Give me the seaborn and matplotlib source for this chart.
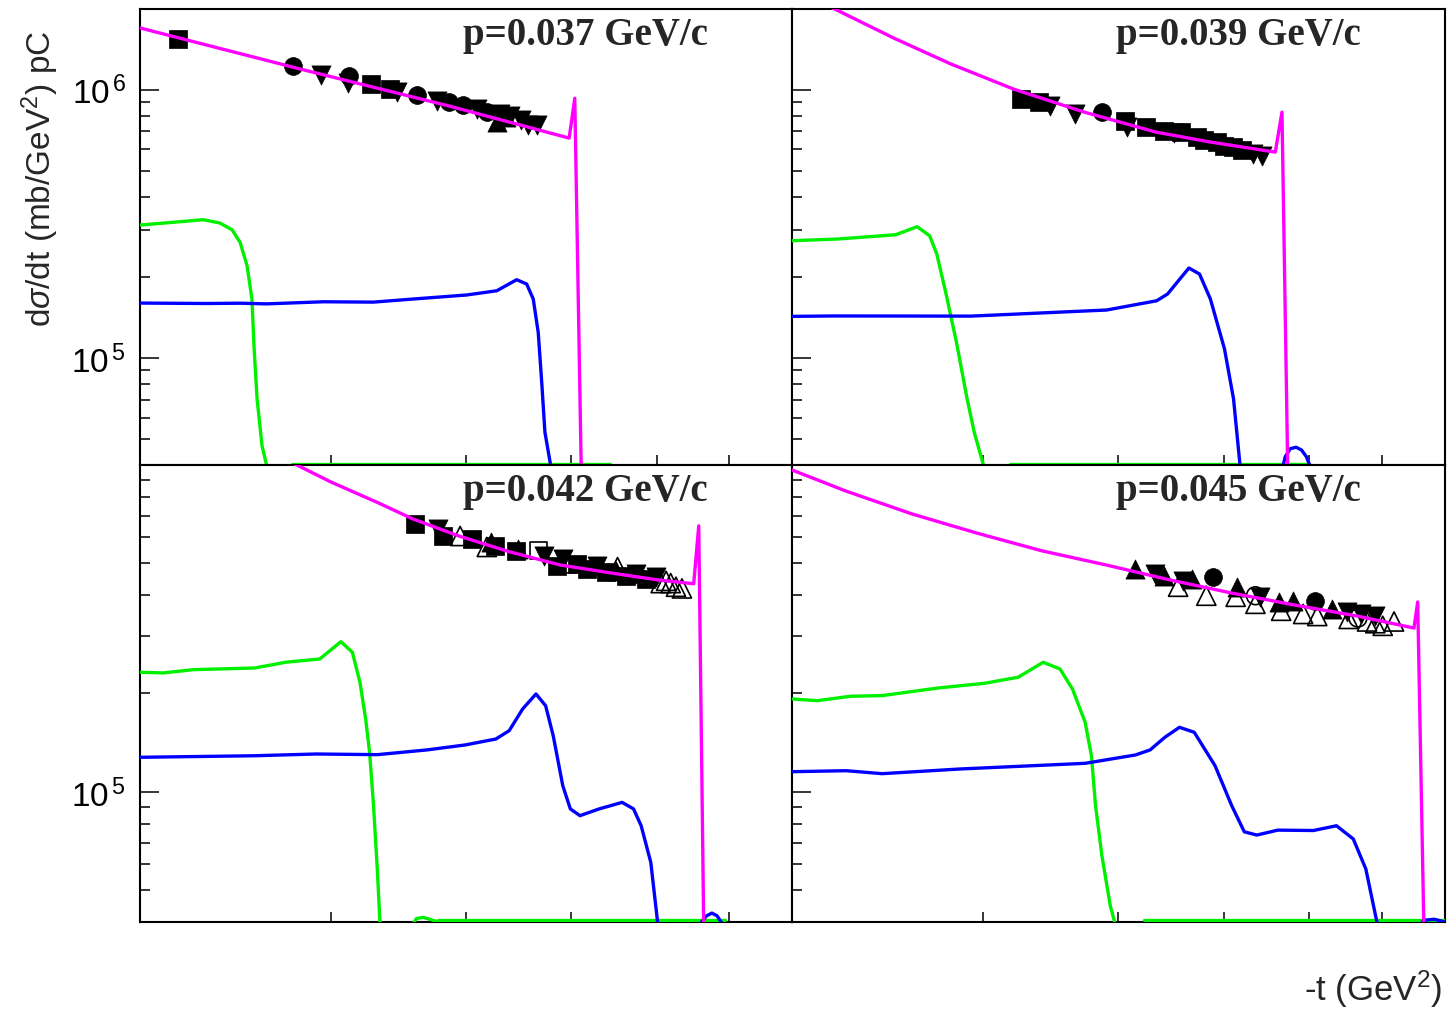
import numpy as np
import pandas as pd
import matplotlib
matplotlib.use('Agg')
import matplotlib.pyplot as plt
import seaborn as sns
from matplotlib.ticker import LogLocator, FixedLocator, NullLocator, NullFormatter, FuncFormatter

# -t in 1e-3 GeV^2, dsigma/dt in 1e5 mb/GeV^2
T_UNIT = 1e-3
V_UNIT = 1e5
FLOOR = 0.405   # curves that ROOT clipped onto the frame bottom

titles = ['p=0.037 GeV/c', 'p=0.039 GeV/c', 'p=0.042 GeV/c', 'p=0.045 GeV/c']

# ---------------- p = 0.037 GeV/c
mag_t_037 = [2.00, 2.81, 3.86, 4.98, 5.04, 5.11]
mag_v_037 = [17.0, 11.96, 8.70, 6.61, 9.3, 0.38]
grn_t_037 = [2.00, 2.145, 2.287, 2.370, 2.432, 2.474, 2.511, 2.537, 2.549, 2.565, 2.592, 2.625]
grn_v_037 = [3.135, 3.209, 3.281, 3.19, 3.011, 2.703, 2.211, 1.662, 1.082, 0.705, 0.472, 0.38]
grn_floor_037 = [2.76, 5.43]
blu_t_037 = [2.00, 2.304, 2.474, 2.618, 2.952, 3.284, 3.576, 4.004, 4.27, 4.454, 4.55, 4.614,
             4.663, 4.698, 4.73, 4.798]
blu_v_037 = [1.605, 1.599, 1.603, 1.594, 1.623, 1.618, 1.662, 1.72, 1.784, 1.961, 1.89, 1.662,
             1.249, 0.813, 0.53, 0.38]
sq_t_037 = [2.17, 3.27, 3.40]
sq_v_037 = [15.5, 10.5, 10.1]
ci_t_037 = [2.77, 3.12, 3.60, 3.86, 3.97, 4.18]
ci_v_037 = [12.3, 11.3, 9.6, 9.0, 8.8, 8.3]
dn_t_037 = [2.94, 3.11, 3.45, 3.76, 4.09, 4.30, 4.39, 4.50, 4.56, 4.65]
dn_v_037 = [11.4, 10.6, 9.8, 9.1, 8.5, 8.1, 8.0, 7.7, 7.4, 7.4]
up_t_037 = [4.27, 4.35]
up_v_037 = [7.6, 7.9]

# ---------------- p = 0.039 GeV/c
mag_t_039 = [2.00, 2.19, 2.49, 2.80, 3.20, 3.72, 4.33, 4.86, 5.58, 5.66, 5.73]
mag_v_039 = [23.5, 20.0, 15.5, 12.5, 10.07, 8.26, 6.96, 6.39, 5.86, 8.26, 0.38]
grn_t_039 = [2.00, 2.207, 2.493, 2.609, 2.679, 2.72, 2.772, 2.836, 2.901, 2.945, 3.014]
grn_v_039 = [2.74, 2.781, 2.885, 3.09, 2.86, 2.445, 1.76, 1.146, 0.705, 0.53, 0.38]
grn_floor_039 = [3.18, 6.00]
blu_t_039 = [2.00, 2.191, 2.924, 3.90, 4.338, 4.439, 4.645, 4.751, 4.862, 5.01, 5.107, 5.184]
blu_v_039 = [1.432, 1.437, 1.435, 1.512, 1.637, 1.734, 2.168, 2.059, 1.662, 1.082, 0.705, 0.38]
bump_t_039 = [5.657, 5.70, 5.76, 5.832, 5.90, 5.96, 6.033]
bump_v_039 = [0.38, 0.43, 0.46, 0.466, 0.455, 0.43, 0.38]
sq_t_039 = [3.25, 3.38, 4.06, 4.24, 4.41, 4.57, 4.73, 4.80, 4.93, 5.00, 5.10, 5.20]
sq_v_039 = [9.24, 9.0, 7.65, 7.27, 7.02, 6.96, 6.67, 6.5, 6.39, 6.2, 6.12, 5.95]
ci_t_039 = [3.86]
ci_v_039 = [8.3]
dn_t_039 = [3.46, 3.65, 4.07, 4.50, 5.32, 5.43]
dn_v_039 = [8.70, 8.12, 7.27, 6.9, 5.77, 5.66]

# ---------------- p = 0.042 GeV/c
mag_t_042 = [2.60, 2.79, 3.00, 3.32, 3.57, 3.94, 4.39, 4.89, 5.45, 6.01, 6.49, 6.56, 6.63]
mag_v_042 = [11.2, 10.0, 8.87, 7.65, 6.84, 6.06, 5.42, 4.94, 4.67, 4.45, 4.33, 6.51, 0.38]
grn_t_042 = [2.00, 2.10, 2.241, 2.553, 2.724, 2.931, 3.065, 3.141, 3.192, 3.231, 3.258, 3.284,
             3.312, 3.333]
grn_v_042 = [2.322, 2.311, 2.365, 2.393, 2.491, 2.55, 2.88, 2.673, 2.164, 1.671, 1.322, 0.929,
             0.581, 0.38]
gbump_t_042 = [3.563, 3.60, 3.651, 3.71, 3.771]
gbump_v_042 = [0.39, 0.41, 0.4134, 0.407, 0.40]
grn_floor_042 = [3.771, 6.94]
blu_t_042 = [2.00, 2.553, 2.908, 3.312, 3.681, 3.993, 4.261, 4.384, 4.511, 4.641, 4.737, 4.814,
             4.913, 4.993, 5.096, 5.307, 5.574, 5.711, 5.804, 5.924, 6.021]
blu_v_042 = [1.276, 1.29, 1.306, 1.30, 1.344, 1.392, 1.451, 1.539, 1.793, 1.993, 1.835, 1.486,
             1.045, 0.887, 0.846, 0.887, 0.929, 0.887, 0.788, 0.609, 0.38]
bump_t_042 = [6.53, 6.60, 6.67, 6.746, 6.82, 6.88, 6.94]
bump_v_042 = [0.38, 0.40, 0.418, 0.426, 0.418, 0.40, 0.38]
sq_t_042 = [3.59, 3.81, 4.05, 4.25, 4.45, 4.85, 5.06, 5.17, 5.39, 5.62, 5.86]
sq_v_042 = [6.60, 6.06, 5.94, 5.65, 5.46, 4.91, 4.97, 4.80, 4.70, 4.57, 4.48]
dn_t_042 = [3.77, 4.72, 4.92, 5.28, 5.74, 5.99]
dn_v_042 = [6.37, 5.27, 5.16, 4.91, 4.63, 4.54]
up_t_042 = [4.22, 4.47, 5.50]
up_v_042 = [5.80, 5.55, 4.75]
ot_t_042 = [3.95, 4.18, 4.95, 5.52, 6.05, 6.12, 6.18, 6.25, 6.33]
ot_v_042 = [6.06, 5.61, 5.0, 4.87, 4.35, 4.42, 4.35, 4.24, 4.19]
os_t_042 = [4.67]
os_v_042 = [5.46]

# ---------------- p = 0.045 GeV/c
mag_t_045 = [2.00, 2.24, 2.58, 2.96, 3.40, 3.90, 4.46, 5.08, 5.81, 6.64, 7.49, 7.55, 7.65]
mag_v_045 = [9.65, 8.33, 7.08, 6.19, 5.46, 4.94, 4.45, 4.06, 3.73, 3.45, 3.17, 3.81, 0.38]
grn_t_045 = [2.00, 2.11, 2.265, 2.422, 2.73, 3.011, 3.233, 3.409, 3.533, 3.628, 3.727, 3.777,
             3.81, 3.862, 3.931, 3.984]
grn_v_045 = [1.924, 1.901, 1.961, 1.97, 2.079, 2.149, 2.242, 2.491, 2.377, 2.064, 1.633, 1.29,
             0.908, 0.638, 0.449, 0.38]
grn_floor_045 = [4.22, 8.00]
blu_t_045 = [2.00, 2.245, 2.422, 2.855, 3.727, 4.147, 4.278, 4.414, 4.553, 4.698, 4.91, 5.087,
             5.225, 5.366, 5.609, 6.051, 6.354, 6.585, 6.763, 6.946]
blu_v_045 = [1.153, 1.161, 1.137, 1.175, 1.223, 1.297, 1.344, 1.469, 1.576, 1.522, 1.203, 0.908,
             0.755, 0.738, 0.764, 0.762, 0.788, 0.718, 0.581, 0.38]
bump_t_045 = [7.52, 7.65, 7.82, 8.00]
bump_v_045 = [0.38, 0.405, 0.408, 0.40]
ci_t_045 = [4.89, 6.07]
ci_v_045 = [4.54, 3.84]
dn_t_045 = [4.32, 4.59, 5.40, 6.50, 6.70, 6.90]
dn_v_045 = [4.65, 4.42, 3.95, 3.55, 3.50, 3.45]
up_t_045 = [4.14, 4.41, 4.68, 5.15, 5.63, 5.80, 6.30]
up_v_045 = [4.81, 4.57, 4.48, 4.24, 3.81, 3.84, 3.62]
ot_t_045 = [4.54, 4.82, 5.13, 5.35, 5.65, 5.92, 6.10, 6.52, 6.78, 6.90, 7.01, 7.18]
ot_v_045 = [4.24, 3.98, 3.95, 3.76, 3.58, 3.50, 3.45, 3.38, 3.32, 3.28, 3.22, 3.32]
oc_t_045 = [5.35, 6.65]
oc_v_045 = [3.98, 3.40]

MAGENTA = '#ff00ff'
GREEN = '#00f000'
BLUE = '#0000ff'

sns.set_theme(style='white')
plt.rcParams['font.family'] = ['Liberation Sans', 'DejaVu Sans']
plt.rcParams['mathtext.fontset'] = 'custom'
plt.rcParams['mathtext.rm'] = 'Liberation Sans'
plt.rcParams['mathtext.it'] = 'Liberation Sans:italic'
plt.rcParams['mathtext.bf'] = 'Liberation Sans:bold'

fig = plt.figure(figsize=(14.47, 10.12), dpi=100)
positions = [[0.0968, 0.5395, 0.4506, 0.4506],
             [0.5473, 0.5395, 0.4513, 0.4506],
             [0.0968, 0.0879, 0.4506, 0.4516],
             [0.5473, 0.0879, 0.4513, 0.4516]]

SQ, CI, TRI = 150, 165, 190

# each panel: magenta total, other curves (t, v, color), markers (t, v, marker, filled, size)
panels = [
    dict(mag=(mag_t_037, mag_v_037),
         curves=[(grn_t_037, grn_v_037, GREEN), (grn_floor_037, [FLOOR] * 2, GREEN),
                 (blu_t_037, blu_v_037, BLUE)],
         marks=[(sq_t_037, sq_v_037, 's', True, SQ), (ci_t_037, ci_v_037, 'o', True, CI),
                (dn_t_037, dn_v_037, 'v', True, TRI), (up_t_037, up_v_037, '^', True, TRI)]),
    dict(mag=(mag_t_039, mag_v_039),
         curves=[(grn_t_039, grn_v_039, GREEN), (grn_floor_039, [FLOOR] * 2, GREEN),
                 (blu_t_039, blu_v_039, BLUE), (bump_t_039, bump_v_039, BLUE)],
         marks=[(sq_t_039, sq_v_039, 's', True, SQ), (ci_t_039, ci_v_039, 'o', True, CI),
                (dn_t_039, dn_v_039, 'v', True, TRI)]),
    dict(mag=(mag_t_042, mag_v_042),
         curves=[(grn_t_042, grn_v_042, GREEN), (gbump_t_042, gbump_v_042, GREEN),
                 (grn_floor_042, [FLOOR] * 2, GREEN), (blu_t_042, blu_v_042, BLUE),
                 (bump_t_042, bump_v_042, BLUE)],
         marks=[(sq_t_042, sq_v_042, 's', True, SQ), (dn_t_042, dn_v_042, 'v', True, TRI),
                (up_t_042, up_v_042, '^', True, TRI), (ot_t_042, ot_v_042, '^', False, TRI),
                (os_t_042, os_v_042, 's', False, SQ)]),
    dict(mag=(mag_t_045, mag_v_045),
         curves=[(grn_t_045, grn_v_045, GREEN), (grn_floor_045, [FLOOR] * 2, GREEN),
                 (blu_t_045, blu_v_045, BLUE), (bump_t_045, bump_v_045, BLUE)],
         marks=[(ci_t_045, ci_v_045, 'o', True, CI), (dn_t_045, dn_v_045, 'v', True, TRI),
                (up_t_045, up_v_045, '^', True, TRI), (ot_t_045, ot_v_045, '^', False, TRI),
                (oc_t_045, oc_v_045, 'o', False, CI)]),
]


def dec_label(v, pos):
    return r'$\mathregular{10^{\,%d}}$' % int(round(np.log10(v)))


for i, (pos, p) in enumerate(zip(positions, panels)):
    ax = fig.add_axes(pos)
    ax.set_xscale('log')
    ax.set_yscale('log')

    for t, v, col in p['curves']:
        sns.lineplot(x=np.array(t) * T_UNIT, y=np.array(v) * V_UNIT, ax=ax, color=col,
                     lw=2.4, sort=False, estimator=None, zorder=3)

    for t, v, mk, filled, size in p['marks']:
        if filled:
            sns.scatterplot(x=np.array(t) * T_UNIT, y=np.array(v) * V_UNIT, ax=ax, marker=mk,
                            color='black', edgecolor='black', s=size, linewidth=0.5, zorder=2.8)
        else:
            sns.scatterplot(x=np.array(t) * T_UNIT, y=np.array(v) * V_UNIT, ax=ax, marker=mk,
                            facecolor='none', edgecolor='black', s=size, linewidth=1.2,
                            zorder=2.8)

    mt, mv = p['mag']
    sns.lineplot(x=np.array(mt) * T_UNIT, y=np.array(mv) * V_UNIT, ax=ax, color=MAGENTA,
                 lw=2.4, sort=False, estimator=None, zorder=4)

    ax.set_xlim(2e-3, 8e-3)
    if i < 2:
        ax.set_ylim(4e4, 2e6)
    else:
        ax.set_ylim(4e4, 9.99e5)

    ax.xaxis.set_major_locator(NullLocator())
    ax.xaxis.set_minor_locator(FixedLocator([3e-3, 4e-3, 5e-3, 6e-3, 7e-3]))
    ax.xaxis.set_major_formatter(NullFormatter())
    ax.xaxis.set_minor_formatter(NullFormatter())
    ax.yaxis.set_major_locator(LogLocator(base=10))
    ax.yaxis.set_minor_locator(LogLocator(base=10, subs=np.arange(2, 10)))
    ax.yaxis.set_minor_formatter(NullFormatter())
    if i % 2 == 0:
        ax.yaxis.set_major_formatter(FuncFormatter(dec_label))
    else:
        ax.yaxis.set_major_formatter(NullFormatter())

    ax.tick_params(axis='y', which='major', direction='in', length=14, width=1.1,
                   labelsize=24, pad=10, left=True, right=False, colors='black')
    ax.tick_params(axis='y', which='minor', direction='in', length=7.5, width=1.1,
                   left=True, right=False, colors='black')
    ax.tick_params(axis='x', which='minor', direction='in', length=7.5, width=1.1,
                   bottom=True, top=False, colors='black')
    for s in ax.spines.values():
        s.set_color('black')
        s.set_linewidth(1.5)
    ax.set_xlabel('')
    ax.set_ylabel('')

    ax.text(0.871, 0.945, titles[i], transform=ax.transAxes, ha='right', va='center',
            fontsize=28, fontweight='bold', family=['Liberation Serif', 'DejaVu Serif'],
            zorder=5)

fig.text(0.0276, 0.970, r'd$\sigma$/dt (mb/GeV$^{2}$) pC', rotation=90, ha='center',
         va='top', fontsize=24)
fig.text(0.997, 0.022, r'-t (GeV$^{2}$)', ha='right', va='center', fontsize=25)

fig.savefig('out.png', dpi=100)
